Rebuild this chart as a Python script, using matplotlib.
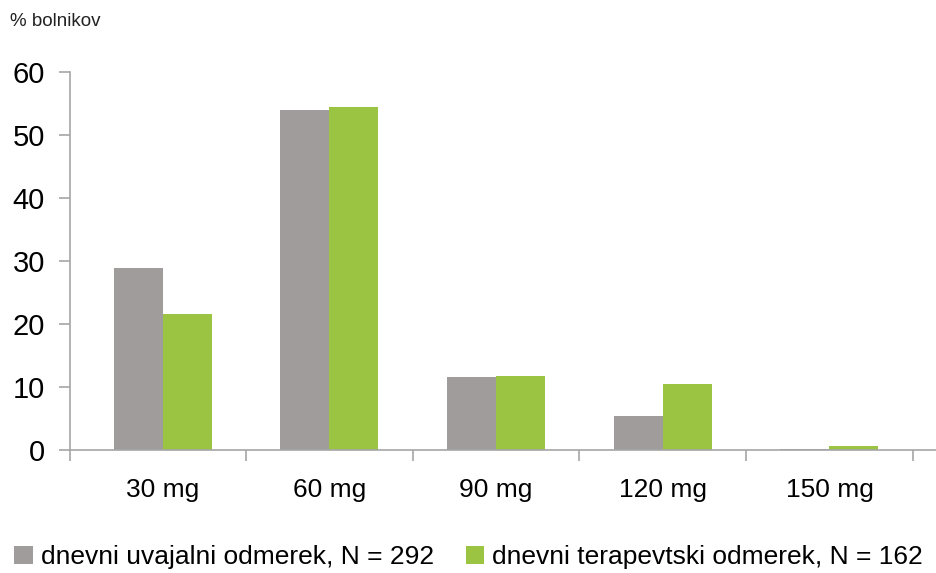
import matplotlib.pyplot as plt
import numpy as np

# dose groups and share of patients (%)
doses = ["30 mg", "60 mg", "90 mg", "120 mg", "150 mg"]
initial_dose = [28.9, 54.0, 11.6, 5.4, 0.2]
therapeutic_dose = [21.6, 54.4, 11.7, 10.5, 0.6]
series_labels = ["dnevni uvajalni odmerek, N = 292",
                 "dnevni terapevtski odmerek, N = 162"]
y_ticks = [0, 10, 20, 30, 40, 50, 60]

GRAY = "#a09c9b"
GREEN = "#9bc443"
AXIS = "#a6a6a6"

plt.rcParams['font.family'] = ['Liberation Sans', 'DejaVu Sans']

fig = plt.figure(figsize=(9.37, 5.73), dpi=100)
ax = fig.add_axes([70 / 937, 1 - 450 / 573, 1 - 70 / 937, (450 - 72) / 573])

x = np.arange(len(doses))
width = 0.294
ax.bar(x - width / 2, initial_dose, width, color=GRAY, label=series_labels[0])
ax.bar(x + width / 2, therapeutic_dose, width, color=GREEN, label=series_labels[1])

x_left, x_right = -0.556, 4.645
ax.set_xlim(x_left, x_right)
ax.set_ylim(0, 60)
ax.set_yticks(y_ticks)
ax.tick_params(axis='y', labelsize=21, length=8, width=1.2, color=AXIS, pad=10)

# category ticks sit between the groups, labels at the group centres
ax.set_xticks([x_left] + list(x[:-1] + 0.5) + [x[-1] + 0.5])
ax.set_xticklabels([])
ax.set_xticks(x, minor=True)
ax.set_xticklabels(doses, minor=True)
ax.tick_params(axis='x', which='major', length=8, width=1.2, color=AXIS)
ax.tick_params(axis='x', which='minor', length=0, labelsize=19, pad=20)

for side in ["top", "right"]:
    ax.spines[side].set_visible(False)
for side in ["left", "bottom"]:
    ax.spines[side].set_color(AXIS)
    ax.spines[side].set_linewidth(1.2)

fig.text(10 / 937, 1 - 22 / 573, "% bolnikov", fontsize=13.5, va='center', color="#222222")

fig.legend(loc='center', bbox_to_anchor=(0.5, 1 - 557 / 573), ncol=2, frameon=False,
           fontsize=19, handlelength=0.7, handleheight=0.7, handletextpad=0.3,
           columnspacing=1.2)

fig.savefig("out.png", dpi=100)
